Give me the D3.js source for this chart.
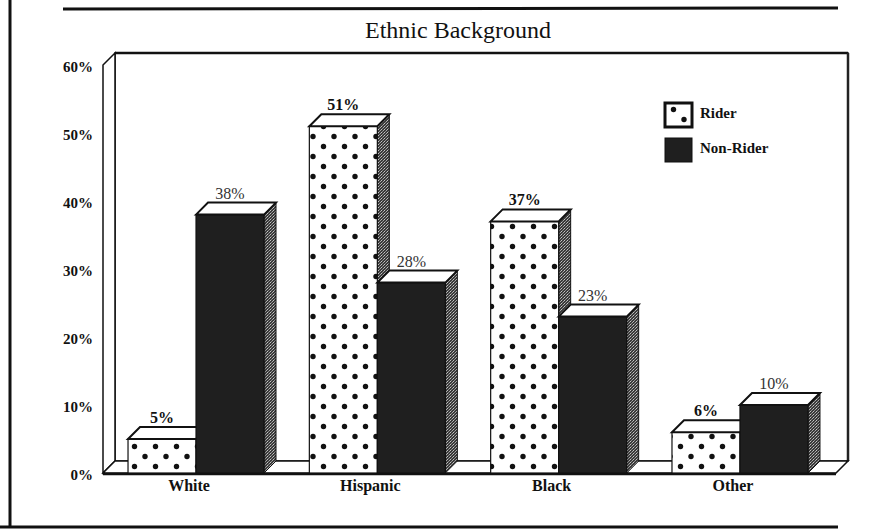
<!DOCTYPE html>
<html>
<head>
<meta charset="utf-8">
<script src="https://cdn.jsdelivr.net/npm/d3@7"></script>
<style>
  html, body { margin: 0; padding: 0; background: #fff; }
  svg { display: block; font-family: "Liberation Serif", "Times New Roman", serif; }
</style>
</head>
<body>
<svg id="chart" width="881" height="530"></svg>
<script>
// Ethnic background, rider vs non-rider (percent).
const categories = ["White", "Hispanic", "Black", "Other"];
const seriesNames = ["Rider", "Non-Rider"];
const riderValues = [5, 51, 37, 6];
const nonRiderValues = [38, 28, 23, 10];
const yTicks = [0, 10, 20, 30, 40, 50, 60];
const titleText = "Ethnic Background";

const DX = 12, DY = -12; // 3D depth offset

const svg = d3.select("#chart");
const defs = svg.append("defs");

// dotted fill for Rider bars
const dots = defs.append("pattern")
  .attr("id", "dots")
  .attr("patternUnits", "userSpaceOnUse")
  .attr("width", 21).attr("height", 20)
  .attr("x", 5).attr("y", 3);
dots.append("rect").attr("width", 21).attr("height", 20).attr("fill", "#fff");
dots.append("circle").attr("cx", 3.5).attr("cy", 3.5).attr("r", 2.7).attr("fill", "#111");
dots.append("circle").attr("cx", 14).attr("cy", 13.5).attr("r", 2.7).attr("fill", "#111");

// dithered gray for side faces
const dither = defs.append("pattern")
  .attr("id", "dither")
  .attr("patternUnits", "userSpaceOnUse")
  .attr("width", 3).attr("height", 3);
dither.append("rect").attr("width", 3).attr("height", 3).attr("fill", "#3a3a3a");
dither.append("rect").attr("width", 1).attr("height", 1).attr("fill", "#c4c4c4");
dither.append("rect").attr("x", 2).attr("y", 1).attr("width", 1).attr("height", 1).attr("fill", "#a8a8a8");
dither.append("rect").attr("x", 1).attr("y", 2).attr("width", 1).attr("height", 1).attr("fill", "#8c8c8c");

// scales
const y = d3.scaleLinear().domain([0, 60]).range([473, 65]);
const x0 = d3.scaleBand().domain(categories).range([103, 833])
  .paddingInner(0.25).paddingOuter(0.138);
const x1 = d3.scaleBand().domain(seriesNames).range([0, x0.bandwidth()]);

const plotLeft = 103, plotRight = 836;

// outer page frame
svg.append("line").attr("x1", 10).attr("y1", 0).attr("x2", 10).attr("y2", 528)
  .attr("stroke", "#111").attr("stroke-width", 3);
svg.append("line").attr("x1", 63).attr("y1", 9).attr("x2", 838).attr("y2", 8)
  .attr("stroke", "#111").attr("stroke-width", 3);
svg.append("line").attr("x1", 0).attr("y1", 527).attr("x2", 838).attr("y2", 527)
  .attr("stroke", "#111").attr("stroke-width", 3);

// title
svg.append("text")
  .attr("x", 458).attr("y", 38)
  .attr("text-anchor", "middle")
  .attr("font-size", 24)
  .attr("fill", "#111")
  .text(titleText);

// 3D frame: back wall, left wall, floor
const y0 = y(0), yTop = y(60);
const poly = (pts) => pts.map((p) => p.join(",")).join(" ");

svg.append("rect")
  .attr("x", plotLeft + DX).attr("y", yTop + DY)
  .attr("width", plotRight - plotLeft).attr("height", y0 - yTop)
  .attr("fill", "#fff").attr("stroke", "#111").attr("stroke-width", 1.5);
// thicker top and right edges
svg.append("line").attr("x1", plotLeft + DX).attr("y1", yTop + DY)
  .attr("x2", plotRight + DX).attr("y2", yTop + DY)
  .attr("stroke", "#111").attr("stroke-width", 2.5);
svg.append("line").attr("x1", plotRight + DX).attr("y1", yTop + DY)
  .attr("x2", plotRight + DX).attr("y2", y0 + DY)
  .attr("stroke", "#222").attr("stroke-width", 2.5);

svg.append("polygon")
  .attr("points", poly([[plotLeft, yTop], [plotLeft + DX, yTop + DY], [plotLeft + DX, y0 + DY], [plotLeft, y0]]))
  .attr("fill", "#fff").attr("stroke", "#111").attr("stroke-width", 1.5);
svg.append("polygon")
  .attr("points", poly([[plotLeft, y0], [plotLeft + DX, y0 + DY], [plotRight + DX, y0 + DY], [plotRight, y0]]))
  .attr("fill", "#fff").attr("stroke", "#111").attr("stroke-width", 1.5);
svg.append("line").attr("x1", plotLeft).attr("y1", y0 + 1).attr("x2", plotRight).attr("y2", y0 + 1)
  .attr("stroke", "#111").attr("stroke-width", 2.5);

// bars
const rows = [];
categories.forEach((c, i) => {
  rows.push({ cat: c, series: "Rider", value: riderValues[i] });
  rows.push({ cat: c, series: "Non-Rider", value: nonRiderValues[i] });
});

const bars = svg.append("g").selectAll("g.bar")
  .data(rows)
  .join("g")
  .attr("class", "bar");

bars.each(function (d) {
  const g = d3.select(this);
  const xl = x0(d.cat) + x1(d.series);
  const w = x1.bandwidth();
  const yt = y(d.value);
  // side face
  g.append("polygon")
    .attr("points", poly([[xl + w, yt], [xl + w + DX, yt + DY], [xl + w + DX, y0 + DY], [xl + w, y0]]))
    .attr("fill", "url(#dither)").attr("stroke", "#111").attr("stroke-width", 1);
  // front face
  g.append("rect")
    .attr("x", xl).attr("y", yt).attr("width", w).attr("height", y0 - yt)
    .attr("fill", d.series === "Rider" ? "url(#dots)" : "#1f1f1f")
    .attr("stroke", "#111").attr("stroke-width", 1.2);
  // top face
  g.append("polygon")
    .attr("points", poly([[xl, yt], [xl + DX, yt + DY], [xl + w + DX, yt + DY], [xl + w, yt]]))
    .attr("fill", "#fff").attr("stroke", "#111").attr("stroke-width", 2);
  // value label
  g.append("text")
    .attr("x", xl + w / 2)
    .attr("y", yt + DY - 4)
    .attr("text-anchor", "middle")
    .attr("font-size", 16)
    .attr("font-weight", d.series === "Rider" ? "bold" : "normal")
    .attr("fill", d.series === "Rider" ? "#111" : "#333")
    .text(d.value + "%");
});

// y axis
svg.append("g")
  .attr("transform", "translate(96,2)")
  .call(d3.axisLeft(y).tickValues(yTicks).tickFormat((d) => d + "%").tickSize(0).tickPadding(3))
  .call((g) => g.select(".domain").remove())
  .call((g) => g.selectAll("text")
    .attr("font-family", "Liberation Serif, serif")
    .attr("font-size", 15).attr("font-weight", "bold").attr("fill", "#111"));

// x axis
svg.append("g")
  .attr("transform", `translate(-7,${y0})`)
  .call(d3.axisBottom(x0).tickSize(0).tickPadding(7))
  .call((g) => g.select(".domain").remove())
  .call((g) => g.selectAll("text")
    .attr("font-family", "Liberation Serif, serif")
    .attr("font-size", 16).attr("font-weight", "bold").attr("fill", "#111"));

// legend
const legend = svg.append("g").attr("transform", "translate(665,103)");
seriesNames.forEach((s, i) => {
  const gy = i * 35;
  legend.append("rect")
    .attr("x", 0).attr("y", gy).attr("width", 27).attr("height", 24)
    .attr("fill", s === "Rider" ? "url(#dots)" : "#1f1f1f")
    .attr("stroke", "#111").attr("stroke-width", s === "Rider" ? 3 : 1);
  legend.append("text")
    .attr("x", 35).attr("y", gy + 15)
    .attr("font-size", 15).attr("font-weight", "bold").attr("fill", "#111")
    .text(s);
});
</script>
</body>
</html>
